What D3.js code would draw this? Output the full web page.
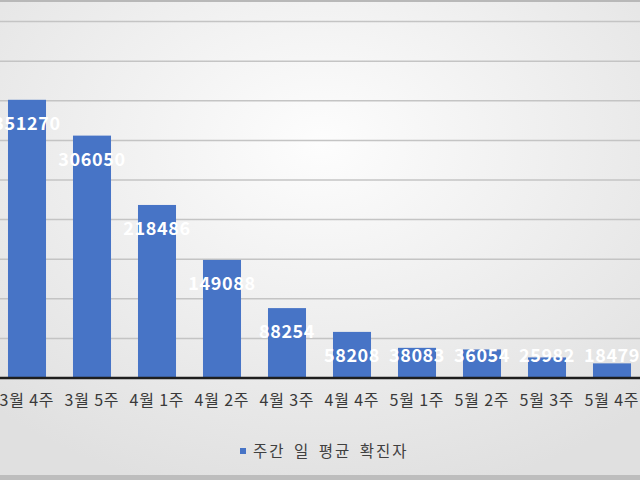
<!DOCTYPE html>
<html>
<head>
<meta charset="utf-8">
<script src="https://cdn.jsdelivr.net/npm/d3@7"></script>
<style>
  body { margin: 0; background: #e6e6e6; }
  svg { display: block; font-family: "Noto Sans CJK KR", "Noto Sans", sans-serif; }
</style>
</head>
<body>
<script>
//Chart data
var weeks = ["3월 4주", "3월 5주", "4월 1주", "4월 2주", "4월 3주", "4월 4주", "5월 1주", "5월 2주", "5월 3주", "5월 4주"];
var dailyAvg = [351270, 306050, 218486, 149088, 88254, 58208, 38083, 36054, 25982, 18479];
var gridTicks = [0, 50000, 100000, 150000, 200000, 250000, 300000, 350000, 400000, 450000];
var seriesName = "주간 일 평균 확진자";

var width = 640, height = 480, baseY = 378;

var svg = d3.select("body").append("svg")
    .attr("width", width)
    .attr("height", height);

//Background gradient
var defs = svg.append("defs");
var grad = defs.append("radialGradient")
    .attr("id", "bg")
    .attr("cx", "50%").attr("cy", "30%").attr("r", "75%");
grad.append("stop").attr("offset", "0%").attr("stop-color", "#fdfdfd");
grad.append("stop").attr("offset", "100%").attr("stop-color", "#e0e0e0");

svg.append("rect")
    .attr("width", width)
    .attr("height", height)
    .attr("fill", "url(#bg)");

//Scales
var x = d3.scaleBand()
    .domain(weeks)
    .range([-5.5, 644.5])
    .paddingInner(0.415)
    .paddingOuter(0.2075);

var y = d3.scaleLinear()
    .domain([0, 500000])
    .range([baseY, baseY - 396]);

//Gridlines
svg.selectAll(".grid")
    .data(gridTicks.slice(1))
    .enter()
    .append("line")
    .attr("class", "grid")
    .attr("x1", 0).attr("x2", width)
    .attr("y1", function(d){ return y(d); })
    .attr("y2", function(d){ return y(d); })
    .attr("stroke", "#c4c4c4")
    .attr("stroke-width", 1.5);

//Bars
svg.selectAll(".bar")
    .data(dailyAvg)
    .enter()
    .append("rect")
    .attr("class", "bar")
    .attr("x", function(d, i){ return x(weeks[i]); })
    .attr("width", x.bandwidth())
    .attr("y", function(d){ return y(d); })
    .attr("height", function(d){ return baseY - y(d); })
    .attr("fill", "#4774c6");

//Value labels
svg.selectAll(".val")
    .data(dailyAvg)
    .enter()
    .append("text")
    .attr("class", "val")
    .attr("x", function(d, i){ return x(weeks[i]) + x.bandwidth() / 2; })
    .attr("y", function(d){ return Math.min(y(d) + 30, 362); })
    .attr("text-anchor", "middle")
    .attr("fill", "#ffffff")
    .attr("font-size", 18)
    .attr("font-weight", 600)
    .attr("letter-spacing", 0.6)
    .text(function(d){ return d; });

//Category axis
var xAxis = svg.append("g")
    .attr("transform", "translate(0," + baseY + ")")
    .call(d3.axisBottom(x).tickSize(0).tickPadding(0));
xAxis.select(".domain").remove();
xAxis.selectAll("text")
    .attr("y", 28)
    .attr("dy", 0)
    .attr("font-size", 16)
    .attr("letter-spacing", 0.8)
    .attr("font-family", "'Noto Sans CJK KR', sans-serif")
    .attr("fill", "#3a3a3a");

svg.append("line")
    .attr("x1", 0).attr("x2", width)
    .attr("y1", baseY).attr("y2", baseY)
    .attr("stroke", "#1e1e1e")
    .attr("stroke-width", 2.5);

//Legend
var legend = svg.append("g").attr("transform", "translate(240,448)");
legend.append("rect")
    .attr("width", 6).attr("height", 6)
    .attr("fill", "#4774c6");
legend.append("text")
    .attr("x", 13).attr("y", 9)
    .attr("font-size", 15.5)
    .attr("letter-spacing", 2)
    .attr("word-spacing", 3)
    .attr("fill", "#404040")
    .text(seriesName);

//Frame lines
svg.append("line")
    .attr("x1", 0).attr("x2", width).attr("y1", 1).attr("y2", 1)
    .attr("stroke", "#b8b8b8").attr("stroke-width", 2);
svg.append("rect")
    .attr("x", 0).attr("y", 475).attr("width", width).attr("height", 5)
    .attr("fill", "#bdbdbd");
</script>
</body>
</html>
